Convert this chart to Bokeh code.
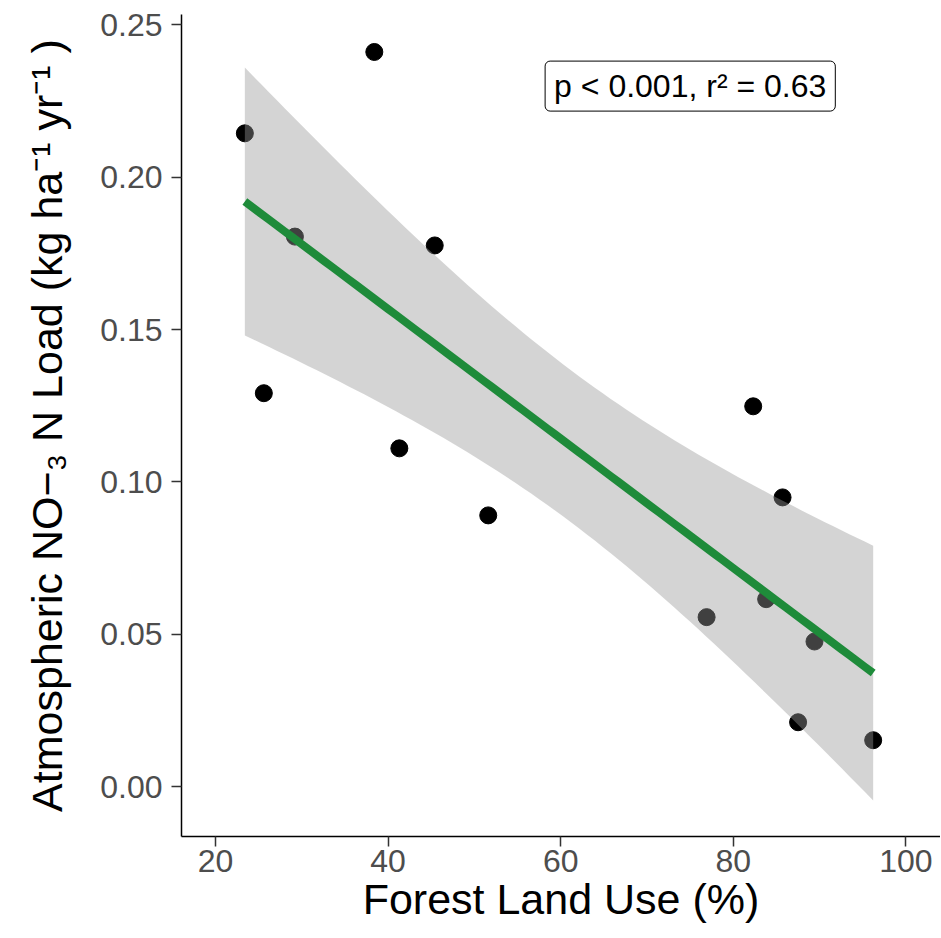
import numpy as np
from bokeh.plotting import figure
from bokeh.models import Range1d, FixedTicker, PrintfTickFormatter, Label
from bokeh.embed import file_html
from bokeh.resources import INLINE

# ---- data ----
forest_pct = [23.4, 25.6, 29.2, 38.4, 41.3, 45.4, 51.6, 76.9, 82.3, 83.8, 85.7, 87.5, 89.4, 96.2]
no3_load = [0.2144, 0.1291, 0.1805, 0.2411, 0.1110, 0.1776, 0.0890, 0.0556, 0.1248,
            0.0615, 0.0949, 0.0211, 0.0476, 0.0152]
x_ticks = [20, 40, 60, 80, 100]
y_ticks = [0.00, 0.05, 0.10, 0.15, 0.20, 0.25]
stat_text = "p < 0.001, r\u00b2 = 0.63"
x_title = "Forest Land Use (%)"
y_title = "Atmospheric NO\u2212\u2083 N Load (kg ha\u207b\u00b9 yr\u207b\u00b9 )"
T_975_DF12 = 2.179  # Student t quantile for the 95% band, n-2 = 12

# ---- linear fit with 95% confidence band (as geom_smooth(method="lm")) ----
xa = np.array(forest_pct)
ya = np.array(no3_load)
n = len(xa)
slope, intercept = np.polyfit(xa, ya, 1)
resid = ya - (slope * xa + intercept)
s = np.sqrt(np.sum(resid ** 2) / (n - 2))
sxx = np.sum((xa - xa.mean()) ** 2)
xf = np.linspace(xa.min(), xa.max(), 80)
yf = slope * xf + intercept
half = T_975_DF12 * s * np.sqrt(1.0 / n + (xf - xa.mean()) ** 2 / sxx)

FONT = "Liberation Sans"

p = figure(width=940, height=937, output_backend="svg", toolbar_location=None,
           x_range=Range1d(16.06, 104.0), y_range=Range1d(-0.0164, 0.2534),
           min_border_left=181, min_border_top=14, min_border_right=0, min_border_bottom=101)
p.outline_line_color = None
p.xgrid.visible = False
p.ygrid.visible = False
p.background_fill_color = "white"
p.border_fill_color = "white"

p.scatter(forest_pct, no3_load, size=17, color="black")
p.varea(x=xf, y1=yf - half, y2=yf + half, fill_color="#999999", fill_alpha=0.42)
p.line(xf, yf, line_color="#1e8b3a", line_width=8)

p.add_layout(Label(x=75, y=0.2299, text=stat_text, text_align="center", text_baseline="middle",
                   text_font=FONT, text_font_size="32px", text_color="black",
                   background_fill_color="white", border_line_color="black",
                   border_line_width=1, border_radius=5, padding=(9, 7)))

for ax in (p.xaxis[0], p.yaxis[0]):
    ax.axis_line_color = "black"
    ax.axis_line_width = 1.5
    ax.major_tick_line_color = "#333333"
    ax.major_tick_line_width = 1.5
    ax.major_tick_out = 10
    ax.major_tick_in = 0
    ax.minor_tick_line_color = None
    ax.major_label_text_font = FONT
    ax.major_label_text_font_size = "32px"
    ax.major_label_text_color = "#4d4d4d"
    ax.axis_label_text_font = FONT
    ax.axis_label_text_font_size = "43px"
    ax.axis_label_text_font_style = "normal"
    ax.axis_label_text_color = "black"

p.xaxis.ticker = FixedTicker(ticks=x_ticks)
p.yaxis.ticker = FixedTicker(ticks=y_ticks)
p.yaxis.formatter = PrintfTickFormatter(format="%.2f")
p.xaxis.axis_label = x_title
p.yaxis.axis_label = y_title
p.xaxis.major_label_standoff = 3
p.xaxis.axis_label_standoff = 0
p.yaxis.major_label_standoff = 9
p.yaxis.axis_label_standoff = 26

open("out.html", "w").write(file_html(p, INLINE))
